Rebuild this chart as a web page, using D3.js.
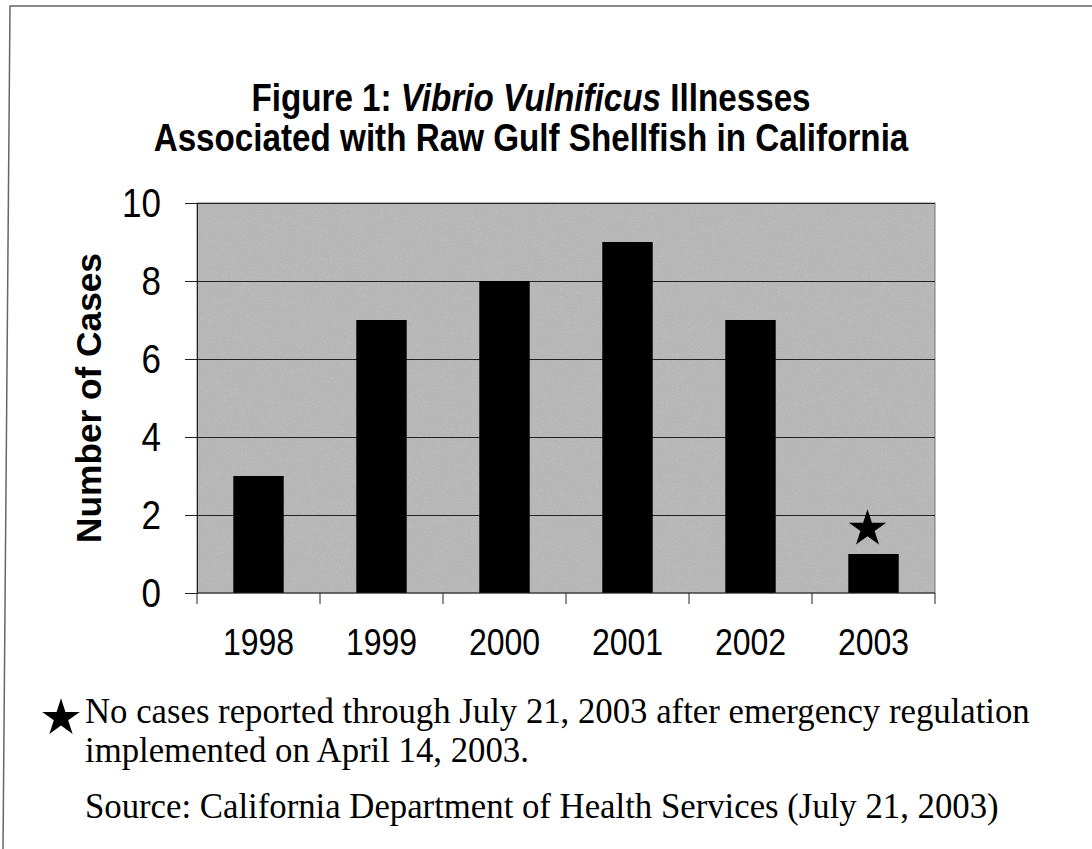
<!DOCTYPE html>
<html>
<head>
<meta charset="utf-8">
<script src="https://cdn.jsdelivr.net/npm/d3@7"></script>
<style>
  html, body { margin: 0; padding: 0; background: #fff; }
  svg { display: block; }
</style>
</head>
<body>
<svg id="chart" width="1092" height="849"></svg>
<script>
// ---- data ----
const categories = ["1998", "1999", "2000", "2001", "2002", "2003"];
const cases = [3, 7, 8, 9, 7, 1];
const yTickValues = [0, 2, 4, 6, 8, 10];
const starCategory = "2003";
const starValue = 1.75;
const titleLine1 = ["Figure 1: ", "Vibrio Vulnificus", " Illnesses"];
const titleLine2 = "Associated with Raw Gulf Shellfish in California";
const yAxisTitle = "Number of Cases";
const noteLines = [
  "No cases reported through July 21, 2003 after emergency regulation",
  "implemented on April 14, 2003."
];
const sourceLine = "Source: California Department of Health Services (July 21, 2003)";

// ---- layout ----
const svg = d3.select("#chart");
const plot = { left: 197, right: 935, top: 203, bottom: 593 };
const sans = "'Liberation Sans', Arial, Helvetica, sans-serif";
const serif = "'Liberation Serif', 'Times New Roman', serif";
const stretch = 1.17;
const noteStretch = 1.06;

function fitWidth(sel, target) {
  const node = sel.node();
  const fs = parseFloat(sel.attr("font-size"));
  const w = node.getComputedTextLength();
  sel.attr("font-size", (fs * target / w).toFixed(2));
}

// grain texture for the plot area
const defs = svg.append("defs");
const f = defs.append("filter").attr("id", "grain")
  .attr("x", 0).attr("y", 0).attr("width", "100%").attr("height", "100%");
f.append("feTurbulence").attr("type", "fractalNoise").attr("baseFrequency", 1.2)
  .attr("numOctaves", 1).attr("seed", 3).attr("result", "noise");
f.append("feColorMatrix").attr("in", "noise").attr("type", "matrix")
  .attr("values", "0 0 0 0 0  0 0 0 0 0  0 0 0 0 0  0 0 0 0.18 0").attr("result", "dots");
f.append("feComposite").attr("in", "dots").attr("in2", "SourceGraphic").attr("operator", "in").attr("result", "d2");
f.append("feMerge").call(m => {
  m.append("feMergeNode").attr("in", "SourceGraphic");
  m.append("feMergeNode").attr("in", "d2");
});

// border (scanned frame)
svg.append("path")
  .attr("d", "M1092,6 L10,6 L3,849")
  .attr("fill", "none").attr("stroke", "#666").attr("stroke-width", 1.5);

// scales
const x = d3.scaleBand().domain(categories)
  .range([plot.left, plot.right]).paddingInner(0.59).paddingOuter(0.295);
const y = d3.scaleLinear().domain([0, 10]).range([plot.bottom, plot.top]);

// plot background
svg.append("rect")
  .attr("x", plot.left).attr("y", plot.top)
  .attr("width", plot.right - plot.left).attr("height", plot.bottom - plot.top)
  .attr("fill", "#c0c0c0").attr("filter", "url(#grain)");
svg.append("rect")
  .attr("x", plot.left).attr("y", plot.top)
  .attr("width", plot.right - plot.left).attr("height", plot.bottom - plot.top)
  .attr("fill", "none").attr("stroke", "#777").attr("stroke-width", 1);

// gridlines
const grid = svg.append("g").attr("transform", `translate(${plot.left},0)`)
  .call(d3.axisLeft(y).tickValues(yTickValues.filter(v => v > 0))
    .tickSize(-(plot.right - plot.left)).tickFormat(""));
grid.select(".domain").remove();
grid.selectAll("line").attr("stroke", "#222").attr("stroke-width", 1);

// bars
svg.append("g").selectAll("rect").data(categories).join("rect")
  .attr("x", d => x(d))
  .attr("y", (d, i) => y(cases[i]))
  .attr("width", x.bandwidth())
  .attr("height", (d, i) => y(0) - y(cases[i]))
  .attr("fill", "#000");

// y axis
const yAxis = svg.append("g").attr("transform", `translate(${plot.left},0)`)
  .call(d3.axisLeft(y).tickValues(yTickValues).tickSize(12).tickPadding(24));
yAxis.select(".domain").attr("stroke", "#222");
yAxis.selectAll("line").attr("stroke", "#222");
yAxis.selectAll("text")
  .attr("font-family", sans).attr("font-size", 35).attr("fill", "#000")
  .attr("transform", `scale(1,${stretch})`);

// x axis
const xAxis = svg.append("g").attr("transform", `translate(0,${plot.bottom})`)
  .call(d3.axisBottom(x).tickSize(0).tickPadding(0));
xAxis.select(".domain").attr("stroke", "#222").attr("d", `M${plot.left},0H${plot.right}`);
xAxis.selectAll("text")
  .attr("font-family", sans).attr("font-size", 32).attr("fill", "#000")
  .attr("y", 49 / stretch).attr("dy", "0.36em")
  .attr("transform", `scale(1,${stretch})`);
const boundaries = categories.map(c => x(c) - (x.step() - x.bandwidth()) / 2)
  .concat([x(categories[categories.length - 1]) + x.bandwidth() + (x.step() - x.bandwidth()) / 2]);
xAxis.selectAll("line.bound").data(boundaries).join("line")
  .attr("class", "bound")
  .attr("x1", d => d).attr("x2", d => d)
  .attr("y1", 0).attr("y2", 11)
  .attr("stroke", "#222");

// star annotation on 2003
const starSym = d3.symbol().type(d3.symbolStar).size(430);
svg.append("path")
  .attr("d", starSym())
  .attr("transform", `translate(${x(starCategory) + x.bandwidth() / 2 - 6},${y(starValue) + 4})`)
  .attr("fill", "#000");

// y axis title
const yt = svg.append("text")
  .attr("transform", `translate(101,${(plot.top + plot.bottom) / 2}) rotate(-90)`)
  .attr("text-anchor", "middle")
  .attr("font-family", sans).attr("font-weight", "bold").attr("font-size", 28)
  .attr("fill", "#000")
  .text(yAxisTitle);
fitWidth(yt, 290);

// title
const t1 = svg.append("text")
  .attr("x", 531).attr("y", 111).attr("text-anchor", "middle")
  .attr("font-family", sans).attr("font-weight", "bold").attr("font-size", 28)
  .attr("fill", "#000");
titleLine1.forEach((s, i) => {
  t1.append("tspan").attr("font-style", i === 1 ? "italic" : "normal").text(s);
});
const t2 = svg.append("text")
  .attr("x", 531).attr("y", 151).attr("text-anchor", "middle")
  .attr("font-family", sans).attr("font-weight", "bold").attr("font-size", 28)
  .attr("fill", "#000")
  .text(titleLine2);
fitWidth(t2, 755);
t1.attr("font-size", t2.attr("font-size"));
[t1, t2].forEach(t => {
  const yy = +t.attr("y");
  t.attr("y", yy / stretch).attr("transform", `scale(1,${stretch})`);
});

// footnote
const note = svg.append("g");
note.append("path")
  .attr("d", d3.symbol().type(d3.symbolStar).size(440)())
  .attr("transform", "translate(61,718)")
  .attr("fill", "#000");
const n1 = note.append("text").attr("x", 85).attr("y", 723)
  .attr("font-family", serif).attr("font-size", 24).attr("fill", "#000")
  .text(noteLines[0]);
fitWidth(n1, 945);
const fsNote = n1.attr("font-size");
note.append("text").attr("x", 85).attr("y", 762)
  .attr("font-family", serif).attr("font-size", fsNote).attr("fill", "#000")
  .text(noteLines[1]);
note.append("text").attr("x", 85).attr("y", 818)
  .attr("font-family", serif).attr("font-size", fsNote).attr("fill", "#000")
  .text(sourceLine);
note.selectAll("text").each(function () {
  const s = d3.select(this);
  s.attr("y", +s.attr("y") / noteStretch).attr("transform", `scale(1,${noteStretch})`);
});
</script>
</body>
</html>
